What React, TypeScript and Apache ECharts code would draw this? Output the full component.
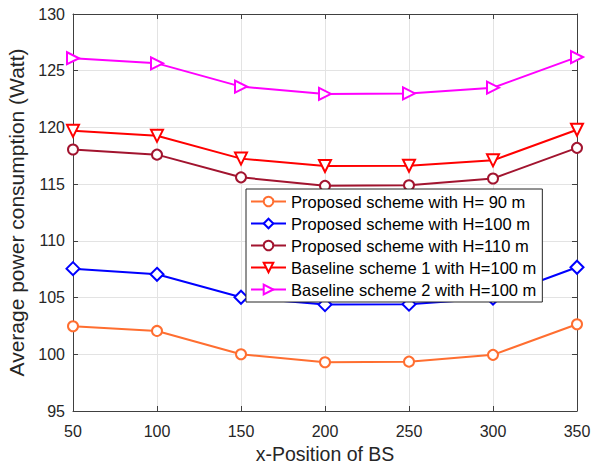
import React, { useEffect, useRef } from "react";
import * as echarts from "echarts";

const xPositions = [50, 100, 150, 200, 250, 300, 350];
const proposed90 = [102.47, 102.06, 100.0, 99.3, 99.35, 99.95, 102.65];
const proposed100 = [107.55, 107.05, 105.03, 104.38, 104.42, 104.95, 107.67];
const proposed110 = [118.05, 117.6, 115.6, 114.85, 114.9, 115.5, 118.2];
const baseline1 = [119.7, 119.26, 117.25, 116.6, 116.62, 117.1, 119.8];
const baseline2 = [126.1, 125.65, 123.6, 122.95, 123.0, 123.5, 126.2];

const seriesNames = [
  "Proposed scheme with H= 90 m",
  "Proposed scheme with H=100 m",
  "Proposed scheme with H=110 m",
  "Baseline scheme 1 with H=100 m",
  "Baseline scheme 2 with H=100 m",
];

const FONT = "'Liberation Sans', Arial, Helvetica, sans-serif";

export default function App() {
  const ref = useRef<HTMLDivElement>(null);
  useEffect(() => {
    if (!ref.current) return;
    const chart = echarts.init(ref.current, undefined, { renderer: "svg" });
    const pairs = (ys: number[]) => xPositions.map((x, i) => [x, ys[i]]);
    const axisColor = "#404040";
    const mk = (
      name: string,
      data: number[],
      color: string,
      symbol: string,
      size: number,
      rotate = 0
    ) => ({
      name,
      type: "line",
      data: pairs(data),
      symbol,
      symbolSize: size,
      symbolRotate: rotate,
      showAllSymbol: true,
      lineStyle: { color, width: 2 },
      itemStyle: { color, borderColor: color, borderWidth: 2 },
    });
    const xCommon = {
      type: "value",
      min: 50,
      max: 350,
      interval: 50,
      axisLine: { show: true, onZero: false, lineStyle: { color: axisColor, width: 1 } },
      axisTick: { show: true, inside: true, length: 5, lineStyle: { color: axisColor } },
    };
    const yCommon = {
      type: "value",
      min: 95,
      max: 130,
      interval: 5,
      axisLine: { show: true, onZero: false, lineStyle: { color: axisColor, width: 1 } },
      axisTick: { show: true, inside: true, length: 5, lineStyle: { color: axisColor } },
    };
    chart.setOption({
      animation: false,
      backgroundColor: "#ffffff",
      grid: {
        left: 73,
        right: 20,
        top: 14,
        bottom: 51,
        containLabel: false,
        outerBoundsMode: "none",
      },
      xAxis: [
        {
          ...xCommon,
          position: "bottom",
          name: "x-Position of BS",
          nameLocation: "middle",
          nameGap: 27,
          nameTextStyle: { fontFamily: FONT, fontSize: 19.5, lineHeight: 20, color: "#262626" },
          axisLabel: { fontFamily: FONT, fontSize: 16, color: "#262626", margin: 12 },
          splitLine: { show: true, lineStyle: { color: "#e3e3e3", width: 1 } },
        },
        {
          ...xCommon,
          position: "top",
          axisLabel: { show: false },
          splitLine: { show: false },
        },
      ],
      yAxis: [
        {
          ...yCommon,
          position: "left",
          name: "Average power consumption (Watt)",
          nameLocation: "middle",
          nameGap: 38,
          nameTextStyle: { fontFamily: FONT, fontSize: 21, color: "#262626" },
          axisLabel: { fontFamily: FONT, fontSize: 16, color: "#262626", margin: 8 },
          splitLine: { show: true, lineStyle: { color: "#e3e3e3", width: 1 } },
        },
        {
          ...yCommon,
          position: "right",
          axisLabel: { show: false },
          splitLine: { show: false },
        },
      ],
      legend: {
        orient: "vertical",
        left: 246,
        top: 189,
        width: 297,
        padding: [4, 6, 4, 4],
        itemWidth: 35,
        itemHeight: 12,
        itemGap: 5,
        backgroundColor: "#ffffff",
        borderColor: "#262626",
        borderWidth: 1,
        borderRadius: 0,
        textStyle: { fontFamily: FONT, fontSize: 16.5, color: "#000000" },
        data: seriesNames,
      },
      series: [
        mk(seriesNames[0], proposed90, "#ff6e30", "emptyCircle", 10),
        mk(seriesNames[1], proposed100, "#0000ff", "emptyDiamond", 13),
        mk(seriesNames[2], proposed110, "#a2142f", "emptyCircle", 10),
        mk(seriesNames[3], baseline1, "#ff0000", "emptyTriangle", 12, 180),
        mk(seriesNames[4], baseline2, "#ff00ff", "emptyTriangle", 12, -90),
      ],
    });
    return () => chart.dispose();
  }, []);
  return (
    <div
      ref={ref}
      style={{ position: "fixed", left: 0, top: 0, width: 597, height: 462 }}
    />
  );
}
